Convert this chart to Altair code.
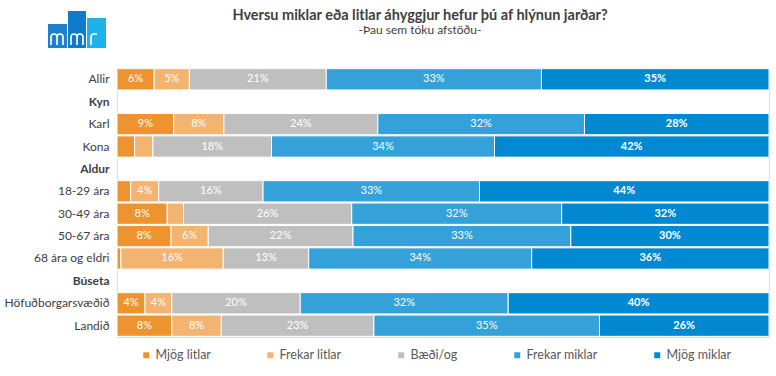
import base64
import altair as alt
import pandas as pd

# ---------------- data ----------------
categories = ["Allir", "Kyn", "Karl", "Kona", "Aldur", "18-29 ára", "30-49 ára",
              "50-67 ára", "68 ára og eldri", "Búseta", "Höfuðborgarsvæðið", "Landið"]
headers = ["Kyn", "Aldur", "Búseta"]
series = ["Mjög litlar", "Frekar litlar", "Bæði/og", "Frekar miklar", "Mjög miklar"]
colors = ["#ED9431", "#F2B470", "#BFBFBF", "#34A1D9", "#0088D0"]

mjog_litlar   = [5.7, None, 8.7, 2.7, None, 2.1, 7.7, 8.3, 0.6, None, 4.3, 8.4]
frekar_litlar = [5.4, None, 7.7, 2.8, None, 4.3, 2.5, 5.7, 15.7, None, 4.1, 7.6]
baedi_og      = [21.0, None, 23.6, 18.2, None, 16.0, 25.8, 22.2, 13.1, None, 19.7, 23.4]
frekar_miklar = [33.0, None, 31.7, 34.2, None, 33.2, 32.2, 33.4, 34.2, None, 31.9, 34.6]
mjog_miklar   = [34.9, None, 28.3, 42.1, None, 44.4, 31.8, 30.4, 36.4, None, 40.0, 26.0]

all_series = [mjog_litlar, frekar_litlar, baedi_og, frekar_miklar, mjog_miklar]

rows = []
for ci, cat in enumerate(categories):
    for si, name in enumerate(series):
        v = all_series[si][ci]
        if v is not None:
            rows.append({"cat": cat, "series": name, "order": si, "value": v})
df = pd.DataFrame(rows)

FONT = "Lato, DejaVu Sans, sans-serif"
TXT = "#404040"

# ---------------- logo (decoration) ----------------
logo_svg = """<svg xmlns='http://www.w3.org/2000/svg' width='58' height='37' viewBox='0 0 58 37'>
<rect x='0' y='13' width='19' height='24' fill='#1F80CC'/>
<rect x='20' y='0' width='18' height='37' fill='#0F7BCB'/>
<rect x='39' y='7' width='19' height='30' fill='#1DB2EC'/>
<g fill='none' stroke='#fff' stroke-width='1.6'>
<path d='M3,34 V26 Q3,23 6,23 Q9,23 9,26 V34 M9,26 Q9,23 12,23 Q15,23 15,26 V34'/>
<path d='M23,34 V26 Q23,23 26,23 Q29,23 29,26 V34 M29,26 Q29,23 32,23 Q35,23 35,26 V34'/>
<path d='M43,34 V26 Q43,23 46,23 Q49,23 49,23'/>
</g></svg>"""
logo_uri = "data:image/svg+xml;base64," + base64.b64encode(logo_svg.encode("utf-8")).decode("ascii")

base = alt.Chart(df).transform_stack(
    stack="value", groupby=["cat"], as_=["x0", "x1"],
    sort=[alt.SortField("order", order="ascending")]
).transform_calculate(
    mid="(datum.x0 + datum.x1) / 2",
    label="format(datum.value, '.0f') + '%'"
)

y_enc = alt.Y(
    "cat:N",
    scale=alt.Scale(domain=categories, paddingInner=0.05, paddingOuter=0.03),
    axis=alt.Axis(
        title=None, ticks=False, domain=False, labelPadding=8, labelFontSize=12,
        labelColor=TXT, labelFont=FONT, labelLimit=220,
        labelFontWeight=alt.expr("indexof(['Kyn','Aldur','Búseta'], datum.value) >= 0 ? 'bold' : 'normal'"),
    ),
)

bars = base.mark_bar(stroke="white", strokeWidth=1).encode(
    x=alt.X("x0:Q", scale=alt.Scale(domain=[0, 100], nice=False, zero=True), axis=None),
    x2="x1:Q",
    y=y_enc,
    color=alt.Color(
        "series:N",
        scale=alt.Scale(domain=series, range=colors),
        legend=alt.Legend(
            title=None, orient="none", legendX=23, legendY=281, direction="horizontal",
            columns=5, gridAlign="none", columnPadding=53, symbolType="square",
            symbolSize=36, symbolStrokeWidth=0, labelFont=FONT, labelFontSize=12.5,
            labelColor="#595959", symbolOffset=0, labelOffset=3,
        ),
    ),
)

labels_normal = base.transform_filter(
    "datum.value >= 3.5 && datum.series != 'Mjög miklar'"
).mark_text(color="white", fontSize=11, font=FONT).encode(
    x="mid:Q", y=alt.Y("cat:N", scale=alt.Scale(domain=categories)), text="label:N"
)

labels_bold = base.transform_filter(
    "datum.value >= 3.5 && datum.series == 'Mjög miklar'"
).mark_text(color="white", fontSize=11, font=FONT, fontWeight="bold").encode(
    x="mid:Q", y=alt.Y("cat:N", scale=alt.Scale(domain=categories)), text="label:N"
)

logo = alt.Chart(pd.DataFrame({"k": [0]})).mark_image(
    align="left", baseline="top", width=58, height=37
).encode(
    x=alt.value(-69), y=alt.value(-57), url=alt.value(logo_uri)
)

chart = alt.layer(bars, labels_normal, labels_bold, logo).properties(
    width=652,
    height=269,
    autosize=alt.AutoSizeParams(type="none"),
    padding={"left": 117, "top": 68, "right": 7, "bottom": 39},
    title=alt.TitleParams(
        text="Hversu miklar eða litlar áhyggjur hefur þú af hlýnun jarðar?",
        subtitle="-Þau sem tóku afstöðu-",
        anchor="middle", dx=-23, offset=-26, font=FONT, fontSize=14.5,
        fontWeight="bold", color=TXT, subtitleFont=FONT, subtitleFontSize=12,
        subtitleColor=TXT, subtitlePadding=2,
    ),
).configure_view(stroke=None).configure(background="white")

chart.save("out.html", embed_options={"renderer": "svg", "actions": False})
